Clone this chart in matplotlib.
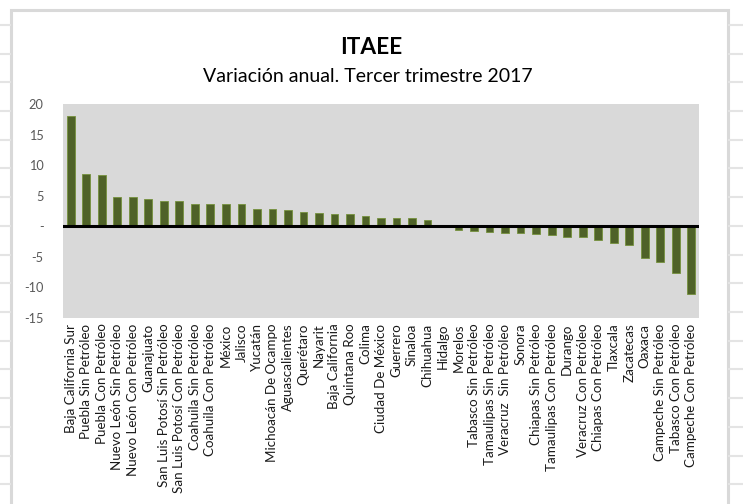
import matplotlib
matplotlib.use("Agg")
import matplotlib.pyplot as plt
from matplotlib.lines import Line2D
from matplotlib.patches import Rectangle
from matplotlib.ticker import FuncFormatter

categories = [
    "Baja California Sur", "Puebla Sin Petróleo", "Puebla Con Petróleo",
    "Nuevo León Sin Petróleo", "Nuevo León Con Petróleo", "Guanajuato",
    "San Luis Potosí Sin Petróleo", "San Luis Potosí Con Petróleo",
    "Coahuila Sin Petróleo", "Coahuila Con Petróleo", "México", "Jalisco",
    "Yucatán", "Michoacán De Ocampo", "Aguascalientes", "Querétaro", "Nayarit",
    "Baja California", "Quintana Roo", "Colima", "Ciudad De México", "Guerrero",
    "Sinaloa", "Chihuahua", "Hidalgo", "Morelos", "Tabasco Sin Petróleo",
    "Tamaulipas Sin Petróleo", "Veracruz  Sin Petróleo", "Sonora",
    "Chiapas Sin Petróleo", "Tamaulipas Con Petróleo", "Durango",
    "Veracruz Con Petróleo", "Chiapas Con Petróleo", "Tlaxcala", "Zacatecas",
    "Oaxaca", "Campeche Sin Petróleo", "Tabasco Con Petróleo",
    "Campeche Con Petróleo",
]
values = [
    18.0, 8.6, 8.35, 4.8, 4.75, 4.47, 4.09, 4.09, 3.7, 3.7, 3.65, 3.65,
    2.9, 2.78, 2.67, 2.29, 2.18, 2.07, 2.02, 1.74, 1.42, 1.31, 1.31, 1.04,
    -0.12, -0.6, -0.71, -0.98, -1.15, -1.15, -1.25, -1.47, -1.69, -1.69,
    -2.24, -2.78, -3.05, -5.13, -5.83, -7.58, -11.07,
]
yticks = [-15, -10, -5, 0, 5, 10, 15, 20]
title = "ITAEE"
subtitle = "Variación anual. Tercer trimestre 2017"

plt.rcParams['font.family'] = ['Lato', 'DejaVu Sans']

W, H = 743, 504
fig = plt.figure(figsize=(W / 100, H / 100), dpi=100)
fig.patch.set_facecolor("white")

def fx(x):
    return x / W

def fy(y):
    return 1 - y / H

# spreadsheet-like background lines outside the chart box
grid_ys = [25 + 28.7 * k for k in range(17)]
for gy in grid_ys:
    fig.add_artist(Line2D([0, fx(10)], [fy(gy), fy(gy)], color="#e4e4e4", lw=1.5))
    fig.add_artist(Line2D([fx(729), 1], [fy(gy), fy(gy)], color="#e4e4e4", lw=1.5))

# chart box border
fig.add_artist(Rectangle((fx(11), fy(510)), fx(717), fy(10) - fy(510),
                         fill=False, edgecolor="#d9d9d9", lw=2.2))

ax = fig.add_axes([fx(63), fy(318), fx(699) - fx(63), fy(104) - fy(318)])
ax.set_facecolor("#d9d9d9")
x = list(range(len(categories)))
ax.bar(x, values, width=0.5, color="#4f6228", edgecolor="#76923c", linewidth=0.6, zorder=2)
ax.axhline(0, color="black", lw=2.2, zorder=3)
ax.set_xlim(-0.5, len(categories) - 0.5)
ax.set_ylim(-15, 20)
ax.set_yticks(yticks)
ax.yaxis.set_major_formatter(FuncFormatter(lambda v, p: "-" if v == 0 else f"{int(v)}"))
ax.set_xticks(x)
ax.set_xticklabels(categories, rotation=90, fontsize=9.6, color="#1a1a1a")
ax.tick_params(axis="y", length=0, pad=14, labelsize=9.2, labelcolor="#595959")
ax.tick_params(axis="x", length=0, pad=4)
for s in ax.spines.values():
    s.set_visible(False)

fig.text(fx(371), fy(48), title, ha="center", va="center", fontsize=16.3,
         fontweight="bold", color="black")
fig.text(fx(368), fy(77), subtitle, ha="center", va="center", fontsize=14,
         color="black")

fig.savefig("out.png", dpi=100)
